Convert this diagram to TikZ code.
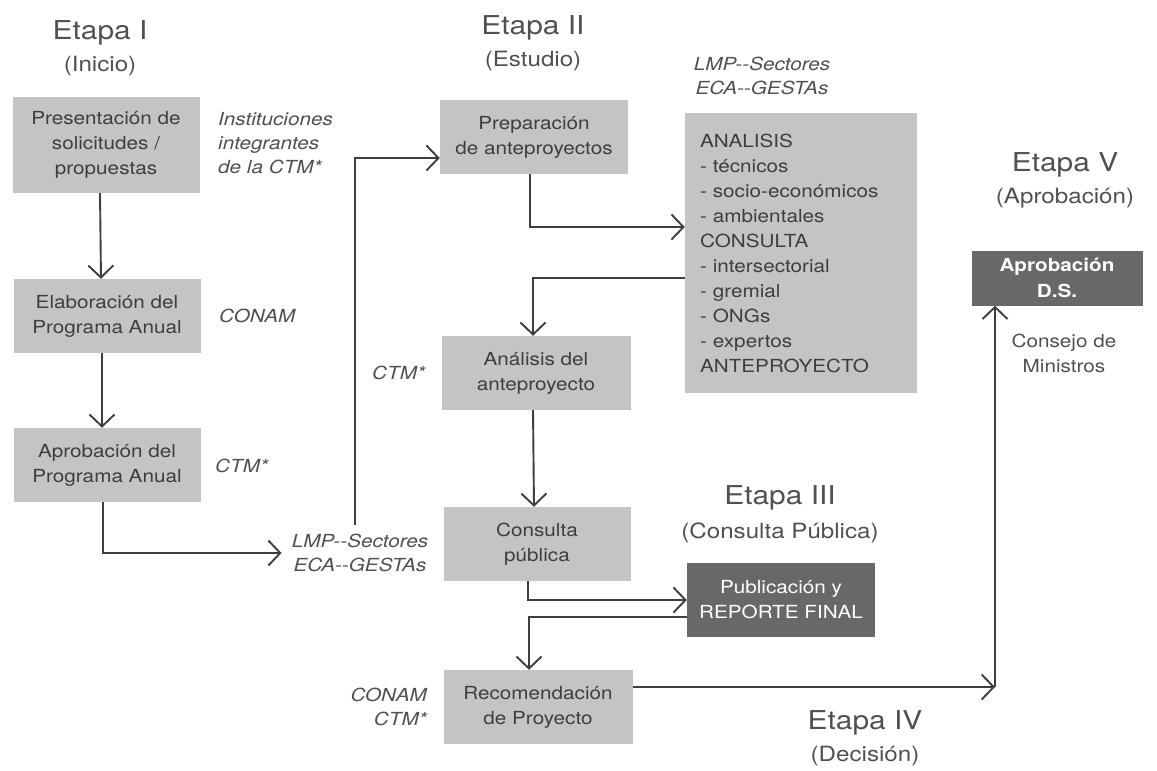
\documentclass[tikz,border=0pt]{standalone}
\usepackage{fontspec}
\setmainfont[FakeStretch=1.15]{TeX Gyre Heros}
\usetikzlibrary{arrows.meta}

\definecolor{boxgray}{HTML}{C4C4C4}
\definecolor{darkbox}{HTML}{686868}
\definecolor{inkgray}{HTML}{3E3E3E}
\definecolor{titlegray}{HTML}{505050}

\begin{document}
\begin{tikzpicture}[
        x=1pt, y=-1pt,
        every node/.style={inner sep=0pt, align=center, text=inkgray},
        stepbox/.style={fill=boxgray, minimum width=187pt, minimum height=74pt, font=\fontsize{18}{25}\selectfont},
        darkstep/.style={fill=darkbox, text=white, minimum width=188pt, minimum height=74pt, font=\fontsize{18}{25}\selectfont},
        stage/.style={text=titlegray, font=\fontsize{26}{30}\selectfont},
        stagesub/.style={text=titlegray, font=\fontsize{21}{25}\selectfont},
        who/.style={text=titlegray, font=\fontsize{18}{24}\selectfont\itshape},
        flow/.style={draw=inkgray, line width=1.9pt, -{Straight Barb[length=12pt,width=25pt,line width=1.9pt]}}
    ]
    \useasboundingbox (0,0) rectangle (1157,771);

    % Etapa I
    \node[stage] (etapa1) at (100,33) {Etapa I};
    \node[stagesub] (inicio) at (100,66) {(Inicio)};
    \node[stepbox, minimum height=96pt] (solicitudes) at (106,145) {Presentación de\\solicitudes /\\propuestas};
    \node[stepbox] (elaboracion) at (107,316) {Elaboración del\\Programa Anual};
    \node[stepbox] (aprobprog) at (107,465) {Aprobación del\\Programa Anual};
    \node[who, align=left, anchor=west] (instituciones) at (218,143) {Instituciones\\integrantes\\de la CTM*};
    \node[who, anchor=west] (conam1) at (219,316) {CONAM};
    \node[who, anchor=west] (ctm1) at (215,466) {CTM*};
    \node[who] (lmpa) at (360,553) {LMP-{}-Sectores\\ECA-{}-GESTAs};

    % Etapa II
    \node[stage] (etapa2) at (533,28) {Etapa II};
    \node[stagesub] (estudio) at (533,61) {(Estudio)};
    \node[stepbox, minimum width=188pt] (preparacion) at (534,137) {Preparación\\de anteproyectos};
    \node[who] (lmpb) at (762,76) {LMP-{}-Sectores\\ECA-{}-GESTAs};
    \node[fill=boxgray, minimum width=232pt, minimum height=280pt, text width=202pt, align=left,
        font=\fontsize{18}{25}\selectfont] (analisis) at (801,253)
        {ANALISIS\\- técnicos\\- socio-económicos\\- ambientales\\CONSULTA\\- intersectorial\\- gremial\\- ONGs\\- expertos\\ANTEPROYECTO};
    \node[stepbox, minimum width=189pt] (anteproyecto) at (536,373) {Análisis del\\anteproyecto};
    \node[who, anchor=west] (ctm2) at (372,373) {CTM*};
    \node[stepbox] (consulta) at (537,544) {Consulta\\pública};

    % Etapa III
    \node[stage] (etapa3) at (780,498) {Etapa III};
    \node[stagesub] (cpublica) at (780,533) {(Consulta Pública)};
    \node[darkstep] (publicacion) at (781,600) {Publicación y\\REPORTE FINAL};

    % Etapa IV
    \node[stepbox, minimum width=189pt] (recomendacion) at (538,707) {Recomendación\\de Proyecto};
    \node[who, align=right, anchor=east] (conam2) at (427,707) {CONAM\\CTM*};
    \node[stage] (etapa4) at (865,723) {Etapa IV};
    \node[stagesub] (decision) at (865,756) {(Decisión)};

    % Etapa V
    \node[stage] (etapa5) at (1065,165) {Etapa V};
    \node[stagesub] (aprobacion) at (1065,198) {(Aprobación)};
    \node[darkstep, minimum width=171pt, minimum height=55pt, font=\fontsize{18}{26}\selectfont\bfseries] (ds) at (1057,278) {Aprobación\\D.S.};
    \node[text=titlegray, font=\fontsize{18}{25}\selectfont] (consejo) at (1064,353) {Consejo de\\Ministros};
    \coordinate (turn) at (995,687);

    % connectors
    \draw[flow] ([xshift=-6]solicitudes.south) -- ([xshift=-6]elaboracion.north);
    \draw[flow] ([xshift=-5]elaboracion.south) -- ([xshift=-5]aprobprog.north);
    \draw[flow] ([xshift=-4]aprobprog.south) |- ([xshift=-10]lmpa.west);
    \draw[flow] ([xshift=-5,yshift=9]lmpa.north) |- ([yshift=-21]preparacion.west);
    \draw[flow] ([xshift=-4]preparacion.south) |- ([yshift=26]analisis.west);
    \draw[flow] ([yshift=-25]analisis.west) -| ([xshift=-3]anteproyecto.north);
    \draw[flow] ([xshift=-3]anteproyecto.south) -- ([xshift=-3]consulta.north);
    \draw[flow] ([xshift=-9]consulta.south) |- (publicacion.west);
    \draw[flow] ([yshift=-17]publicacion.west) -| ([xshift=-9]recomendacion.north);
    \draw[flow] ([yshift=20]recomendacion.east) -- (turn);
    \draw[flow] (turn) -- (turn |- ds.south);

\end{tikzpicture}
\end{document}
